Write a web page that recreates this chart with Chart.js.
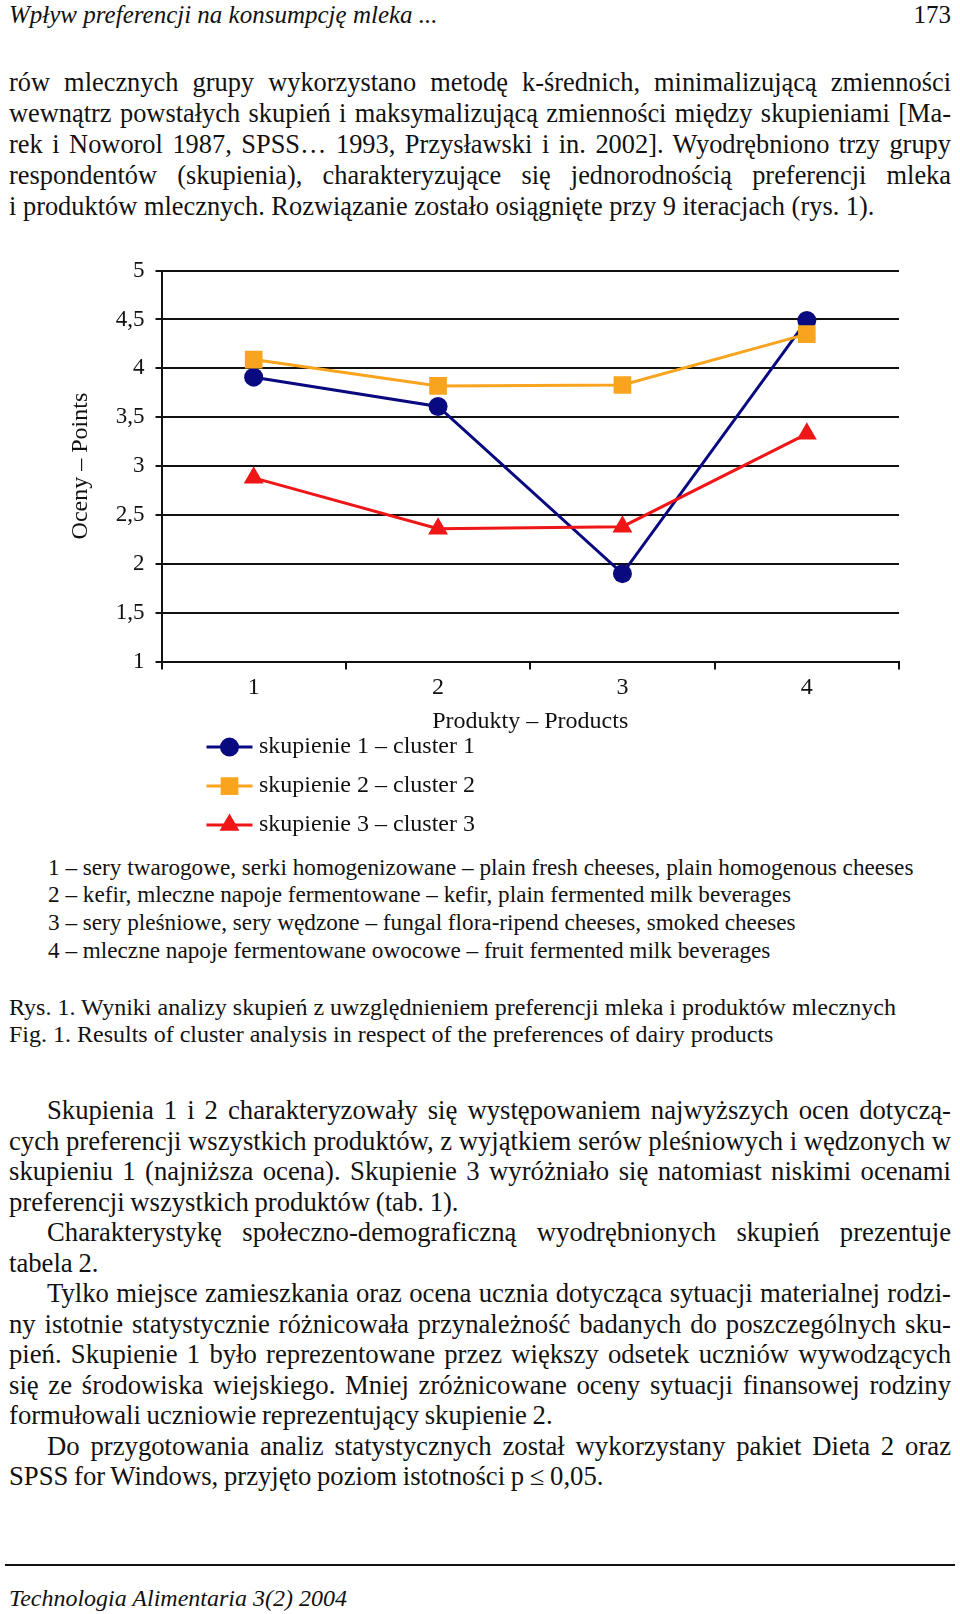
<!DOCTYPE html>
<html lang="pl">
<head>
<meta charset="utf-8">
<title>Rys. 1. Wyniki analizy skupień</title>
<script src="https://cdn.jsdelivr.net/npm/chart.js@4.4.1/dist/chart.umd.min.js"></script>
<style>
  html, body { margin: 0; padding: 0; background: #fff; }
  body {
    width: 960px; height: 1614px; position: relative; overflow: hidden;
    font-family: "Liberation Serif", "Times New Roman", serif; color: #111;
  }
  .blk { position: absolute; left: 9px; width: 942px; }
  .j { text-align: justify; text-align-last: justify; }
  .ind { text-indent: 38px; }
  .it { font-style: italic; }
  #chartBox { position: absolute; left: 0; top: 240px; width: 960px; height: 610px; }
  #rule { position: absolute; left: 5px; top: 1564px; width: 950px; height: 2px; background: #111; }
</style>
</head>
<body>

<div class="blk" style="top:0px; font-size:25px; line-height:30px;">
  <span class="it">Wpływ preferencji na konsumpcję mleka ...</span>
  <span style="position:absolute; right:0; top:0;">173</span>
</div>

<div class="blk" style="top:67px; font-size:26.4px; line-height:30.9px;">
  <div class="j">rów mlecznych grupy wykorzystano metodę k-średnich, minimalizującą zmienności</div>
  <div class="j">wewnątrz powstałych skupień i maksymalizującą zmienności między skupieniami [Ma-</div>
  <div class="j">rek i Noworol 1987, SPSS… 1993, Przysławski i in. 2002]. Wyodrębniono trzy grupy</div>
  <div class="j">respondentów (skupienia), charakteryzujące się jednorodnością preferencji mleka</div>
  <div>i produktów mlecznych. Rozwiązanie zostało osiągnięte przy 9 iteracjach (rys. 1).</div>
</div>

<div id="chartBox"><canvas id="clusterChart"></canvas></div>

<div class="blk" style="left:48px; width:900px; top:853.5px; font-size:23.2px; line-height:27.8px;">
  <div>1 – sery twarogowe, serki homogenizowane – plain fresh cheeses, plain homogenous cheeses</div>
  <div>2 – kefir, mleczne napoje fermentowane – kefir, plain fermented milk beverages</div>
  <div>3 – sery pleśniowe, sery wędzone – fungal flora-ripend cheeses, smoked cheeses</div>
  <div>4 – mleczne napoje fermentowane owocowe – fruit fermented milk beverages</div>
</div>

<div class="blk" style="top:993.5px; font-size:24px; line-height:27.8px;">
  <div>Rys. 1. Wyniki analizy skupień z uwzględnieniem preferencji mleka i produktów mlecznych</div>
  <div>Fig. 1. Results of cluster analysis in respect of the preferences of dairy products</div>
</div>

<div class="blk" style="top:1095px; font-size:26.7px; line-height:30.5px; word-spacing:-1px;">
  <div class="j ind">Skupienia 1 i 2 charakteryzowały się występowaniem najwyższych ocen dotyczą-</div>
  <div class="j">cych preferencji wszystkich produktów, z wyjątkiem serów pleśniowych i wędzonych w</div>
  <div class="j">skupieniu 1 (najniższa ocena). Skupienie 3 wyróżniało się natomiast niskimi ocenami</div>
  <div>preferencji wszystkich produktów (tab. 1).</div>
  <div class="j ind">Charakterystykę społeczno-demograficzną wyodrębnionych skupień prezentuje</div>
  <div>tabela 2.</div>
  <div class="j ind">Tylko miejsce zamieszkania oraz ocena ucznia dotycząca sytuacji materialnej rodzi-</div>
  <div class="j">ny istotnie statystycznie różnicowała przynależność badanych do poszczególnych sku-</div>
  <div class="j">pień. Skupienie 1 było reprezentowane przez większy odsetek uczniów wywodzących</div>
  <div class="j">się ze środowiska wiejskiego. Mniej zróżnicowane oceny sytuacji finansowej rodziny</div>
  <div>formułowali uczniowie reprezentujący skupienie 2.</div>
  <div class="j ind">Do przygotowania analiz statystycznych został wykorzystany pakiet Dieta 2 oraz</div>
  <div>SPSS for Windows, przyjęto poziom istotności p ≤ 0,05.</div>
</div>

<div id="rule"></div>
<div class="blk it" style="top:1583px; font-size:24px; line-height:30px;">Technologia Alimentaria 3(2) 2004</div>

<script>
// data
var products = ['1', '2', '3', '4'];
var cluster1 = [3.91, 3.61, 1.90, 4.49];
var cluster2 = [4.09, 3.82, 3.83, 4.35];
var cluster3 = [2.88, 2.36, 2.38, 3.33];
var seriesNames = ['skupienie 1 – cluster 1', 'skupienie 2 – cluster 2', 'skupienie 3 – cluster 3'];
var yMin = 1, yMax = 5, yStep = 0.5;

var navy = '#0a0a80', orange = '#f9a41e', red = '#ee1616';
var serif = '"Liberation Serif", "Times New Roman", serif';

Chart.defaults.font.family = serif;
Chart.defaults.color = '#111';

// legend drawn as a column under the x axis title, like the original
var columnLegend = {
    id: 'columnLegend',
    afterDraw: function (chart) {
        var ctx = chart.ctx, area = chart.chartArea;
        ctx.save();
        chart.data.datasets.forEach(function (ds, i) {
            var y = area.bottom + 85.5 + i * 39;
            var x0 = area.left + 45;
            ctx.strokeStyle = ds.borderColor;
            ctx.lineWidth = 3;
            ctx.beginPath();
            ctx.moveTo(x0, y);
            ctx.lineTo(x0 + 46, y);
            ctx.stroke();
            ctx.fillStyle = ds.backgroundColor;
            Chart.helpers.drawPoint(ctx, {
                pointStyle: ds.pointStyle, radius: ds.pointRadius, rotation: 0, borderWidth: 0
            }, x0 + 23, y);
            ctx.fillStyle = '#111';
            ctx.font = '24px ' + serif;
            ctx.textAlign = 'left';
            ctx.textBaseline = 'middle';
            ctx.fillText(ds.label, area.left + 97.5, y);
        });
        ctx.restore();
    }
};

var ctx = document.getElementById('clusterChart').getContext('2d');
var clusterChart = new Chart(ctx, {
    type: 'line',
    data: {
        labels: products,
        datasets: [{
            label: seriesNames[0],
            data: cluster1,
            borderColor: navy, backgroundColor: navy,
            pointStyle: 'circle', pointRadius: 9.5, pointBorderWidth: 0,
            borderWidth: 3, order: 3
        }, {
            label: seriesNames[1],
            data: cluster2,
            borderColor: orange, backgroundColor: orange,
            pointStyle: 'rect', pointRadius: 12.5, pointBorderWidth: 0,
            borderWidth: 3, order: 2
        }, {
            label: seriesNames[2],
            data: cluster3,
            borderColor: red, backgroundColor: red,
            pointStyle: 'triangle', pointRadius: 11.5, pointBorderWidth: 0,
            borderWidth: 3, order: 1
        }]
    },
    options: {
        responsive: true,
        maintainAspectRatio: false,
        animation: false,
        layout: { padding: { top: 30.6, right: 61, bottom: 113.4, left: 0 } },
        plugins: {
            legend: { display: false },
            tooltip: { enabled: false }
        },
        scales: {
            x: {
                offset: true,
                grid: { offset: true, drawOnChartArea: false, drawTicks: true, tickLength: 8, color: '#111', lineWidth: 2 },
                border: { color: '#111', width: 2 },
                ticks: { padding: 4, font: { size: 24 } },
                title: { display: true, text: 'Produkty – Products', font: { size: 24 }, padding: { top: 0, bottom: 0.5 } },
                afterFit: function (scale) { scale.height = 75; }
            },
            y: {
                min: yMin,
                max: yMax,
                ticks: {
                    stepSize: yStep,
                    padding: 11,
                    font: { size: 23 },
                    callback: function (v) { return String(v).replace('.', ','); }
                },
                grid: { color: '#111', lineWidth: 2, tickLength: 6 },
                border: { color: '#111', width: 2 },
                title: { display: true, text: 'Oceny – Points', font: { size: 24 }, padding: { top: 66, bottom: 0 } },
                afterFit: function (scale) { scale.width = 161.5; }
            }
        }
    },
    plugins: [columnLegend]
});
</script>
</body>
</html>
